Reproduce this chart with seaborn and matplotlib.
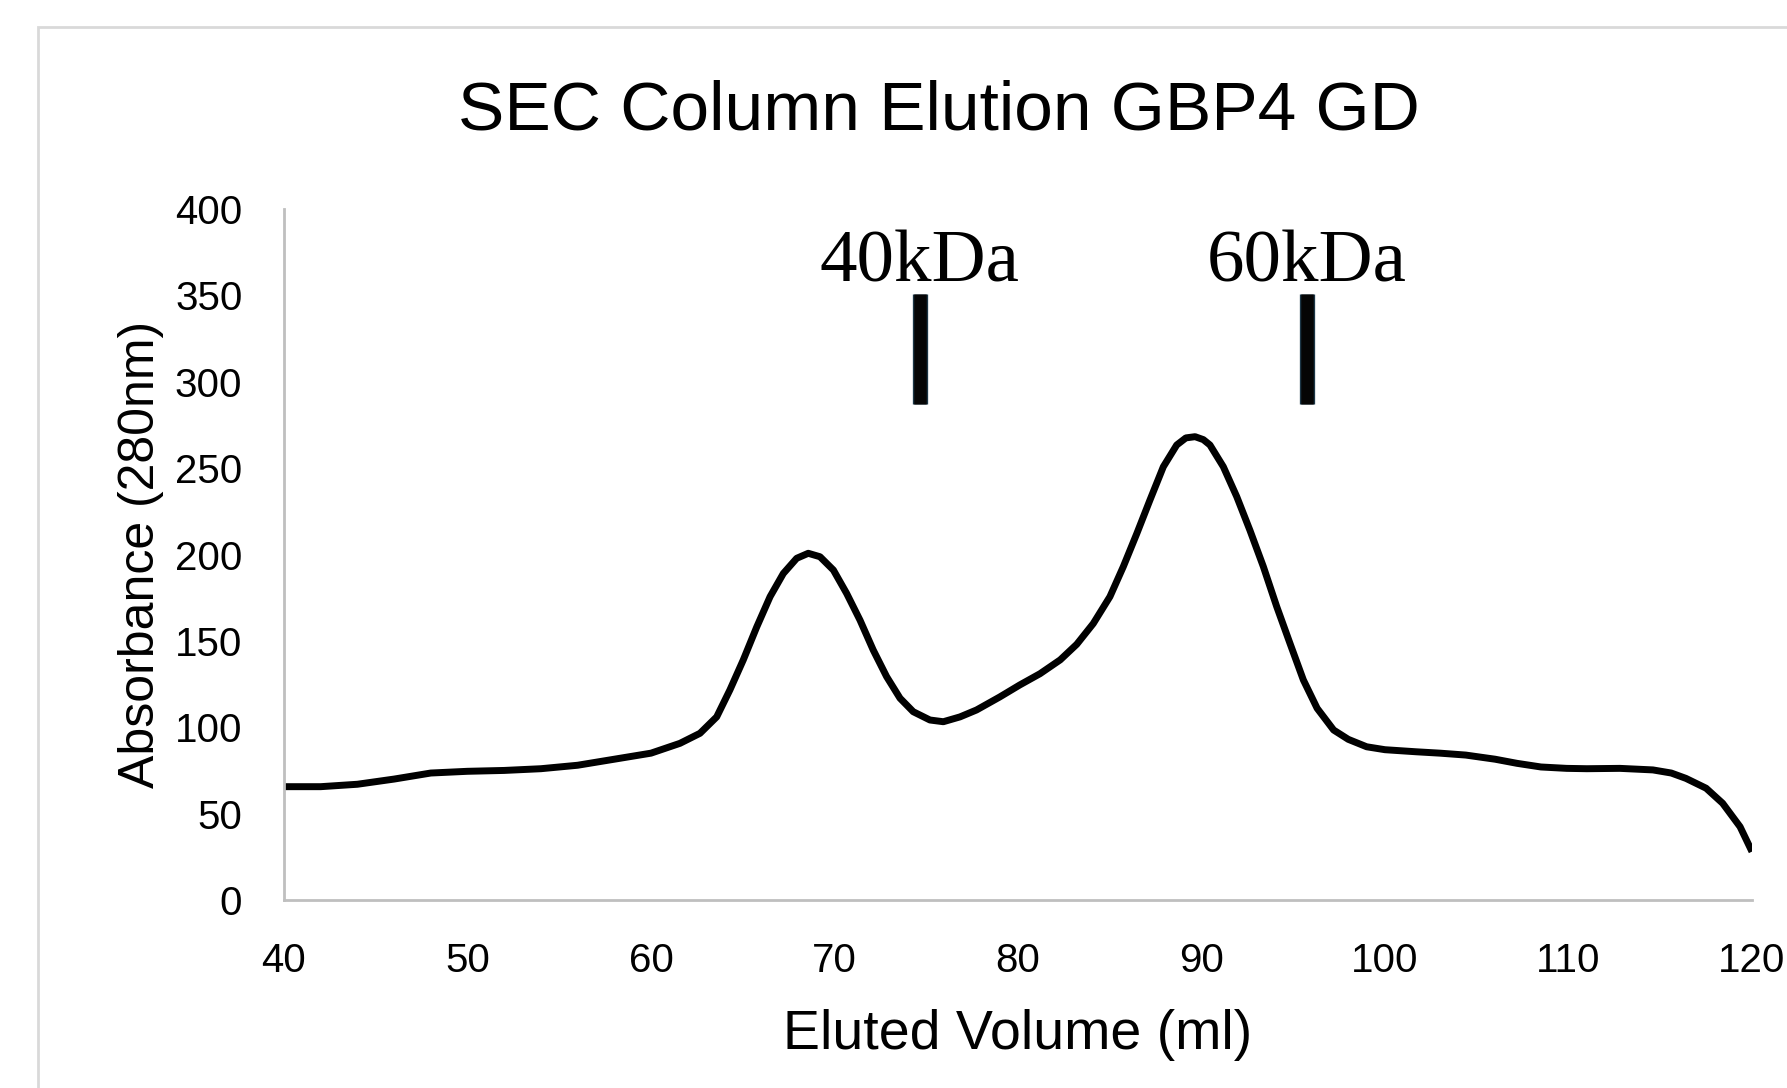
import matplotlib
matplotlib.use("Agg")
import matplotlib.pyplot as plt
import matplotlib.patheffects as pe
import seaborn as sns
from matplotlib.patches import Rectangle

# elution trace (ml, absorbance at 280 nm)
volume = [40, 42, 44, 46, 48, 50, 52, 54, 56, 58, 60, 61.58, 62.67, 63.58,
          64.3, 65.03, 65.76, 66.49, 67.21, 67.94, 68.57, 69.21, 69.94, 70.66,
          71.39, 72.11, 72.84, 73.57, 74.29, 75.2, 75.93, 76.84, 77.74, 79,
          80.1, 81.2, 82.3, 83.2, 84.1, 85.01, 85.74, 86.47, 87.19, 87.92,
          88.65, 89.15, 89.65, 90.1, 90.46, 91.19, 91.92, 92.64, 93.37, 94.1,
          94.82, 95.55, 96.3, 97.2, 98, 99, 100, 101.7, 103, 104.4, 106,
          107.2, 108.5, 109.9, 111, 112.8, 114.6, 115.6, 116.4, 117.5, 118.4,
          119.35, 120]
absorbance = [65.6, 65.6, 67, 70, 73.5, 74.5, 75, 76, 78, 81.5, 85, 90.7,
              96.5, 106, 121.6, 139, 158, 175.6, 189, 197.8, 200.7, 198.7,
              191, 177.5, 162, 144.7, 129.3, 116.8, 109, 104.2, 103.2, 106,
              110, 117.5, 124.5, 131, 139, 148, 160, 175.6, 193, 212, 231.5,
              250.8, 263.4, 267.5, 268.2, 266.5, 263.4, 250.8, 233.5, 214, 193,
              169.8, 148.6, 127.4, 111, 98.4, 93, 88.7, 87, 85.8, 85, 83.9,
              81.5, 79.1, 77, 76.2, 76, 76.2, 75.3, 73.5, 70.4, 64.7, 56, 42.4,
              28]

# molecular weight standards
marker_labels = ["40kDa", "60kDa"]
marker_x = [74.65, 95.75]
marker_lo = [287, 287]
marker_hi = [351, 351]
marker_text_y = 358

x_ticks = [40, 50, 60, 70, 80, 90, 100, 110, 120]
y_ticks = [0, 50, 100, 150, 200, 250, 300, 350, 400]

sns.set_theme(style="white")
plt.rcParams["font.family"] = ["Liberation Sans", "DejaVu Sans"]

W, H = 1787, 1088
fig = plt.figure(figsize=(W / 100, H / 100), dpi=100, facecolor="white")

# Excel chart-area frame (cropped on right/bottom)
fig.patches.append(Rectangle((38 / W, -0.1), 1.2, (H - 27) / H + 0.1,
                             transform=fig.transFigure, fill=False,
                             edgecolor="#D9D9D9", lw=2.0, zorder=0))

ax = fig.add_axes([284 / W, 1 - 900 / H, (1752 - 284) / W, (900 - 209) / H])
ax.set_facecolor("none")

sns.lineplot(x=volume, y=absorbance, ax=ax, color="black", lw=5.0,
             solid_capstyle="butt", solid_joinstyle="round")

ax.vlines(marker_x, marker_lo, marker_hi, colors="#050505", lw=9.0,
          capstyle="butt",
          path_effects=[pe.Stroke(linewidth=11, foreground="#1c3646"),
                        pe.Normal()])
for xm, lab in zip(marker_x, marker_labels):
    ax.text(xm, marker_text_y, lab, ha="center", va="baseline", fontsize=54,
            family=["Liberation Serif", "DejaVu Serif"], color="black")

ax.set_xlim(40, 120)
ax.set_ylim(0, 400)
ax.set_xticks(x_ticks)
ax.set_yticks(y_ticks)
ax.tick_params(axis="both", length=0, labelsize=29, colors="black")
ax.tick_params(axis="x", pad=30)
ax.tick_params(axis="y", pad=30)
for side in ["top", "right"]:
    ax.spines[side].set_visible(False)
for side in ["left", "bottom"]:
    ax.spines[side].set_color("#BFBFBF")
    ax.spines[side].set_linewidth(2.0)

ax.set_xlabel("Eluted Volume (ml)", fontsize=40, color="black", labelpad=21)
ax.set_ylabel("Absorbance (280nm)", fontsize=36, color="black", labelpad=8)

fig.text(939 / W, 1 - 111 / H, "SEC Column Elution GBP4 GD", ha="center",
         va="center", fontsize=50, color="black")

fig.savefig("out.png", dpi=100, facecolor="white")
